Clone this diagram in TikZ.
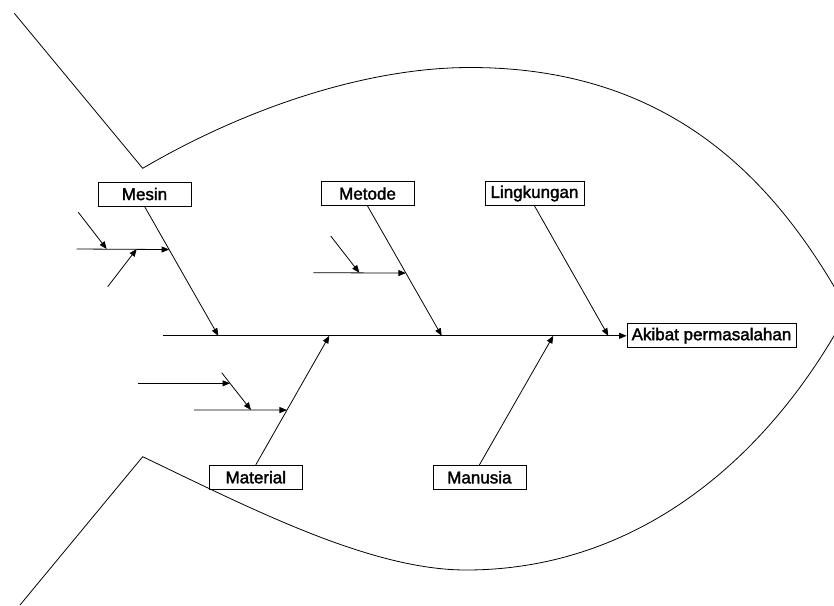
\documentclass[tikz,border=0pt]{standalone}
\usepackage{fontspec}
\setmainfont{Liberation Sans}
\newfontfamily\lblfont[FakeBold=1.8]{Liberation Sans}
\usetikzlibrary{arrows.meta,calc}
\begin{document}
\begin{tikzpicture}[x=1pt,y=-1pt,line width=0.8pt,
  lbl/.style={draw,line width=0.8pt,inner sep=0pt,minimum width=93pt,minimum height=24pt,
    font=\lblfont\fontsize{17}{19}\selectfont},
  arr/.style={-{Triangle[length=7.5pt,width=6pt]}},
  outline/.style={line width=0.8pt}]
\useasboundingbox (0,0) rectangle (834,605);
\clip (0,0) rectangle (834,605);
% fish outline
\coordinate (tailtop) at (14.3,13.3);
\coordinate (apextop) at (142.7,168.3);
\coordinate (apexbot) at (142.7,456.7);
\coordinate (tailbot) at (20,605);
\coordinate (head) at (848,311);
\draw[outline] (tailtop) -- (apextop)
  .. controls (250,105.5) and (370,67.5) .. (470,67.5)
  .. controls (670,67.5) and (776,179) .. (head);
\draw[outline] (tailbot) -- (apexbot)
  .. controls (250,508) and (370,570) .. (466,570)
  .. controls (636,570) and (768,460.6) .. (head);
% boxes
\node[lbl] (mesin) at (144.5,194) {Mesin};
\node[lbl] (metode) at (367.5,193.5) {Metode};
\node[lbl,minimum width=99pt] (lingk) at (534.5,193.5) {Lingkungan};
\node[lbl,minimum width=169pt] (akibat) at (711.5,335.8) {Akibat permasalahan};
\node[lbl] (material) at (255.8,477.2) {Material};
\node[lbl] (manusia) at (479.4,477.3) {Manusia};
% spine
\coordinate (sp0) at (162.7,335.8);
\draw[arr] (sp0) -- (akibat.west);
\coordinate (b1) at (218.3,335.8);
\coordinate (b2) at (441.7,335.8);
\coordinate (b3) at (608.3,335.8);
\coordinate (b4) at (329.3,335.8);
\coordinate (b5) at (553.3,335.8);
\draw[arr] (mesin.south) -- (b1);
\draw[arr] (metode.south) -- (b2);
\draw[arr] (lingk.south) -- (b3);
\draw[arr] (material.north) -- (b4);
\draw[arr] (manusia.north) -- (b5);
% Mesin sub-bones
\coordinate (h1s) at (76.7,249);
\coordinate (h1e) at ($(mesin.south)!0.3333!(b1)$);
\draw[arr] (h1s) -- (h1e);
\coordinate (d1s) at (78.3,212.3);
\coordinate (d1e) at (106.7,249);
\draw[arr] (d1s) -- (d1e);
\coordinate (d2s) at (107.7,286.7);
\coordinate (d2e) at (136.7,249);
\draw[arr] (d2s) -- (d2e);
% Metode sub-bones
\coordinate (h2s) at (313.3,272.7);
\coordinate (h2e) at ($(metode.south)!0.517!(b2)$);
\draw[arr] (h2s) -- (h2e);
\coordinate (d3s) at (330.7,236);
\coordinate (d3e) at (359.3,272.7);
\draw[arr] (d3s) -- (d3e);
% Material sub-bones
\coordinate (h3s) at (194,410);
\coordinate (h3e) at ($(material.north)!0.4244!(b4)$);
\draw[arr] (h3s) -- (h3e);
\coordinate (d4s) at (221.7,372.7);
\coordinate (d4e) at (251,410);
\draw[arr] (d4s) -- (d4e);
\coordinate (h4s) at (138.3,383.3);
\coordinate (h4e) at (230,383.3);
\draw[arr] (h4s) -- (h4e);
\end{tikzpicture}
\end{document}
